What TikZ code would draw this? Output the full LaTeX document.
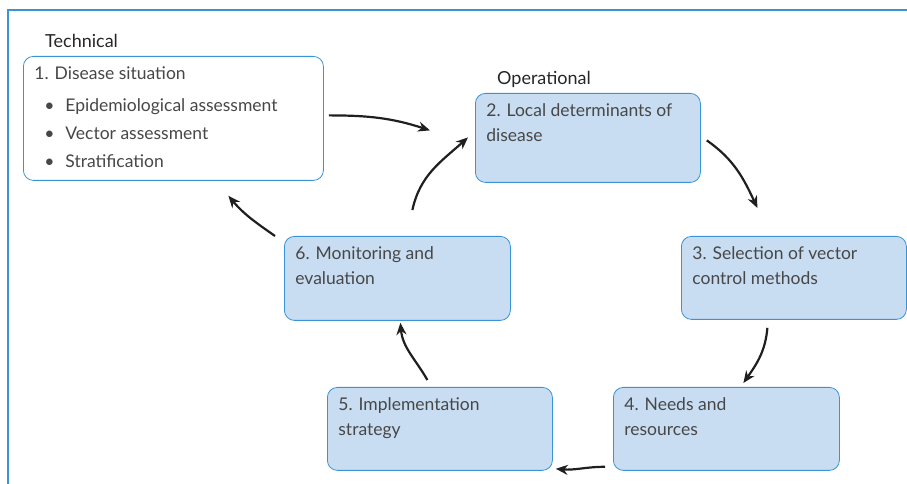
\documentclass[tikz,border=0pt]{standalone}
\usepackage{fontspec}
\setmainfont{Lato}
\usetikzlibrary{arrows.meta}

\definecolor{frame blue}{HTML}{3A93D3}
\definecolor{box fill}{HTML}{C8DDF1}
\colorlet{ink}{black!72}
\def\boxtext#1#2#3{\parbox[t][#1][t]{#2}{\raggedright\baselineskip=24.5pt #3}}
\def\bulletline#1{\hspace*{10pt}\makebox[21pt][l]{\textbullet}#1}
\tikzset{techbox/.style={draw=frame blue, fill=white, thick, rounded corners=10pt,
        anchor=north west, inner xsep=11pt, inner ysep=10.5pt, text=ink},
    opbox/.style={techbox, fill=box fill},
    cyc/.style={-{Stealth[length=12pt,width=10pt]}, line width=2.2pt, black!88},
    heading/.style={anchor=base west, inner sep=0pt, font=\fontsize{18}{20}\selectfont, text=black!85}}

\begin{document}
\begin{tikzpicture}[x=1pt, y=1pt, font=\fontsize{17.5}{20}\selectfont]

    \useasboundingbox (0,0) rectangle (907,484);
    \draw[frame blue, line width=1.5pt] (8,0) -- (8,474) -- (907,474);

    \node[heading] (techlabel) at (45,436) {Technical};
    \node[heading] (oplabel) at (497,399) {Operational};

    \node[techbox] (tech) at (23,428) {\boxtext{103pt}{278pt}{1. Disease situation\\[7pt]
        \bulletline{Epidemiological assessment}\\[3.5pt]
        \bulletline{Vector assessment}\\[3.5pt]
        \bulletline{Stratification}}};
    \node[opbox] (local) at (475,391) {\boxtext{68pt}{203pt}{2. Local determinants of\\disease}};
    \node[opbox] (sel) at (681,248) {\boxtext{62pt}{203pt}{3. Selection of vector\\control methods}};
    \node[opbox] (needs) at (613,97) {\boxtext{62pt}{204pt}{4. Needs and\\resources}};
    \node[opbox] (impl) at (327,97) {\boxtext{62pt}{203pt}{5. Implementation\\strategy}};
    \node[opbox] (mon) at (284,248) {\boxtext{63pt}{204pt}{6. Monitoring and\\evaluation}};

    % the cycle
    \draw[cyc] ([shift={(5,3)}]tech.east) to[out=0, in=162] ([shift={(-45,7.5)}]local.west);
    \draw[cyc] ([shift={(6,-2.5)}]local.east) to[out=-35, in=115] ([shift={(-36.5,28)}]sel.north);
    \draw[cyc] ([shift={(-26.5,-8)}]sel.south) to[out=-95, in=55] ([shift={(17,4)}]needs.north);
    \draw[cyc] ([shift={(-8,4)}]needs.south west) to[out=180, in=-5] ([shift={(3,2)}]impl.south east);
    \draw[cyc] ([shift={(-12.5,7)}]impl.north) to[out=120, in=-85] ([shift={(3,-2)}]mon.south);
    \draw[cyc] ([shift={(15,26)}]mon.north) to[out=78, in=-138] ([shift={(-7,0.5)}]local.west);
    \draw[cyc] ([shift={(-9,0)}]mon.north west) to[out=145, in=-50] ([shift={(55,-15)}]tech.south);

\end{tikzpicture}
\end{document}
